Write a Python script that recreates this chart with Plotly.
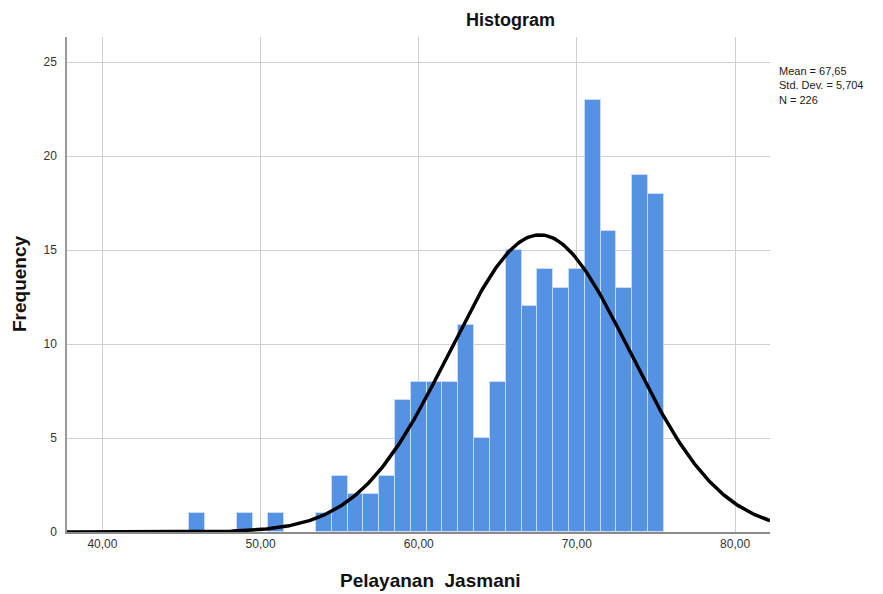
import numpy as np
import plotly.graph_objects as go

# Data (bin centres, width 1)
bin_centers = [46, 49, 51, 54, 55, 56, 57, 58, 59, 60, 61, 62, 63, 64, 65,
               66, 67, 68, 69, 70, 71, 72, 73, 74, 75]
frequencies = [1, 1, 1, 1, 3, 2, 2, 3, 7, 8, 8, 8, 11, 5, 8,
               15, 12, 14, 13, 14, 23, 16, 13, 19, 18]
mean_value = 67.65
std_dev = 5.704
n_total = 226
x_tick_vals = [40, 50, 60, 70, 80]
x_tick_text = ["40,00", "50,00", "60,00", "70,00", "80,00"]
y_tick_vals = [0, 5, 10, 15, 20, 25]

x_range = [37.76, 82.21]
y_range = [0, 26.33]

# Normal curve scaled to counts (bin width 1)
xc = np.linspace(x_range[0], x_range[1], 400)
yc = n_total * 1.0 / (std_dev * np.sqrt(2 * np.pi)) * np.exp(-0.5 * ((xc - mean_value) / std_dev) ** 2)

FONT = "Liberation Sans, Arial, sans-serif"

# page offset of the figure div (body margin)
OFF = 8
W, H = 883 - OFF, 594 - OFF
plot_l, plot_r, plot_t, plot_b = 67 - OFF, 770 - OFF, 37 - OFF, 532 - OFF


def px2paper(px, py):
    px -= OFF
    py -= OFF
    return (px - plot_l) / (plot_r - plot_l), (plot_b - py) / (plot_b - plot_t)


fig = go.Figure()
fig.add_trace(go.Bar(
    x=bin_centers, y=frequencies, width=1,
    marker=dict(color="#5592E3", line=dict(color="#C9DCF5", width=1)),
    showlegend=False, hoverinfo="x+y"))
fig.add_trace(go.Scatter(
    x=xc, y=yc, mode="lines", line=dict(color="black", width=3.5),
    showlegend=False, cliponaxis=True))

anns = []
def add_ann(text, px, py, **kw):
    x, y = px2paper(px, py)
    d = dict(text=text, x=x, y=y, xref="paper", yref="paper", showarrow=False,
             xanchor="center", yanchor="middle")
    d.update(kw)
    anns.append(d)

add_ann("<b>Histogram</b>", 510, 20, font=dict(size=18, color="#111", family=FONT))
add_ann("<b>Pelayanan  Jasmani</b>", 430, 580, font=dict(size=19, color="#111", family=FONT))
add_ann("<b>Frequency</b>", 19, 283, textangle=-90, font=dict(size=19, color="#111", family=FONT))
add_ann("Mean = 67,65<br>Std. Dev. = 5,704<br>N = 226", 777, 63, align="left",
        xanchor="left", yanchor="top", font=dict(size=11, color="#222", family=FONT))

fig.update_layout(
    width=W, height=H,
    margin=dict(l=plot_l, r=W - plot_r, t=plot_t, b=H - plot_b),
    paper_bgcolor="white", plot_bgcolor="white",
    bargap=0,
    font=dict(family=FONT, color="#222"),
    xaxis=dict(range=x_range, tickvals=x_tick_vals, ticktext=x_tick_text,
               showgrid=True, gridcolor="#CFCFCF", gridwidth=1,
               zeroline=False, showline=True, linecolor="#8A8A8A", linewidth=1.5,
               ticks="", tickfont=dict(size=12, color="#333")),
    yaxis=dict(range=y_range, tickvals=y_tick_vals,
               showgrid=True, gridcolor="#CFCFCF", gridwidth=1,
               zeroline=False, showline=True, linecolor="#9A9A9A", linewidth=1.5,
               ticks="", ticklabelstandoff=6, tickfont=dict(size=12, color="#333")),
    annotations=anns,
)

fig.write_html("out.html")
